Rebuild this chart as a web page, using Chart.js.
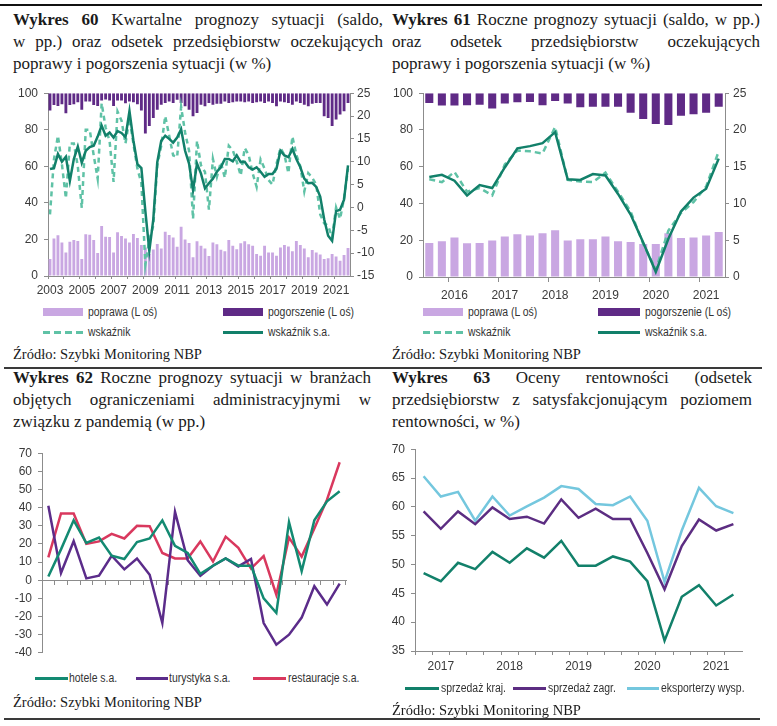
<!DOCTYPE html>
<html>
<head>
<meta charset="utf-8">
<script src="https://cdn.jsdelivr.net/npm/chart.js@4.4.0/dist/chart.umd.min.js"></script>
<style>
  body { margin: 0; width: 777px; height: 726px; background: #fff; position: relative; overflow: hidden; font-family: 'Liberation Serif', serif; }
  canvas { position: absolute; }
  .title { position: absolute; font-size: 17px; line-height: 22px; color: #1a1a1a; }
  .title div { white-space: nowrap; }
  .title .j { text-align: justify; text-align-last: justify; }
  .src { position: absolute; font-size: 14.5px; color: #1a1a1a; white-space: nowrap; }
  .rule { position: absolute; height: 2px; background: #3a3a3a; }
  .leg { position: absolute; height: 16px; display: flex; align-items: center; white-space: nowrap;
         font-family: 'Liberation Sans Narrow', 'Liberation Sans', sans-serif; font-size: 12px; color: #333; }
  .leg .t { display: inline-block; transform: scaleX(0.87); transform-origin: left center; }
  .sw { display: inline-block; flex: none; }
</style>
</head>
<body>

<div class="rule" style="left:0; top:4px; width:762px; background:#111;"></div>
<div class="rule" style="left:4px; top:367px; width:758px;"></div>
<div class="rule" style="left:4px; top:718px; width:756px;"></div>

<div class="title" style="left:13px; top:9px; width:370px;">
  <div class="j"><b>Wykres 60</b> Kwartalne prognozy sytuacji (saldo,</div>
  <div class="j">w pp.) oraz odsetek przedsiębiorstw oczekujących</div>
  <div>poprawy i pogorszenia sytuacji (w %)</div>
</div>
<div class="title" style="left:392px; top:9px; width:368px;">
  <div class="j"><b>Wykres 61</b> Roczne prognozy sytuacji (saldo, w pp.)</div>
  <div class="j">oraz odsetek przedsiębiorstw oczekujących</div>
  <div>poprawy i pogorszenia sytuacji (w %)</div>
</div>
<div class="title" style="left:13px; top:367px; width:358px;">
  <div class="j"><b>Wykres 62</b> Roczne prognozy sytuacji w branżach</div>
  <div class="j">objętych ograniczeniami administracyjnymi w</div>
  <div>związku z pandemią (w pp.)</div>
</div>
<div class="title" style="left:392px; top:367px; width:360px;">
  <div class="j"><b>Wykres 63</b> Oceny rentowności (odsetek</div>
  <div class="j">przedsiębiorstw z satysfakcjonującym poziomem</div>
  <div>rentowności, w %)</div>
</div>

<canvas id="c60" width="385" height="222" style="left:5px; top:80px;"></canvas>
<canvas id="c61" width="387" height="222" style="left:390px; top:80px;"></canvas>
<canvas id="c62" width="385" height="226" style="left:5px; top:440px;"></canvas>
<canvas id="c63" width="392" height="240" style="left:385px; top:436px;"></canvas>

<!-- legends -->
<div class="leg" style="left:43px; top:304px;"><span class="sw" style="width:40px;height:8px;background:#c9a7e2;"></span><span class="t" style="margin-left:5px;">poprawa (L oś)</span></div>
<div class="leg" style="left:223px; top:304px;"><span class="sw" style="width:40px;height:8px;background:#5f2a86;"></span><span class="t" style="margin-left:5px;">pogorszenie (L oś)</span></div>
<div class="leg" style="left:43px; top:324px;"><span class="sw" style="width:40px;height:3px;background:repeating-linear-gradient(to right,#5fc2a6 0 7px,transparent 7px 11px);"></span><span class="t" style="margin-left:5px;">wskaźnik</span></div>
<div class="leg" style="left:223px; top:324px;"><span class="sw" style="width:40px;height:3px;background:#12806a;"></span><span class="t" style="margin-left:5px;">wskaźnik s.a.</span></div>

<div class="leg" style="left:423px; top:304px;"><span class="sw" style="width:40px;height:8px;background:#c9a7e2;"></span><span class="t" style="margin-left:5px;">poprawa (L oś)</span></div>
<div class="leg" style="left:598px; top:304px;"><span class="sw" style="width:42px;height:8px;background:#5f2a86;"></span><span class="t" style="margin-left:5px;">pogorszenie (L oś)</span></div>
<div class="leg" style="left:423px; top:324px;"><span class="sw" style="width:40px;height:3px;background:repeating-linear-gradient(to right,#5fc2a6 0 7px,transparent 7px 11px);"></span><span class="t" style="margin-left:5px;">wskaźnik</span></div>
<div class="leg" style="left:598px; top:324px;"><span class="sw" style="width:42px;height:3px;background:#12806a;"></span><span class="t" style="margin-left:5px;">wskaźnik s.a.</span></div>

<div class="leg" style="left:35px; top:670px;"><span class="sw" style="width:33px;height:3px;background:#138a72;"></span><span class="t" style="margin-left:1px;">hotele s.a.</span></div>
<div class="leg" style="left:136px; top:670px;"><span class="sw" style="width:32px;height:3px;background:#5b2c8a;"></span><span class="t" style="margin-left:1px;">turystyka s.a.</span></div>
<div class="leg" style="left:253px; top:670px;"><span class="sw" style="width:33px;height:3px;background:#d9385e;"></span><span class="t" style="margin-left:2px;">restauracje s.a.</span></div>

<div class="leg" style="left:405px; top:680px;"><span class="sw" style="width:34px;height:3px;background:#12806a;"></span><span class="t" style="margin-left:2px;">sprzedaż kraj.</span></div>
<div class="leg" style="left:513px; top:680px;"><span class="sw" style="width:33px;height:3px;background:#5c2d82;"></span><span class="t" style="margin-left:2px;">sprzedaż zagr.</span></div>
<div class="leg" style="left:627px; top:680px;"><span class="sw" style="width:32px;height:3px;background:#74c7de;"></span><span class="t" style="margin-left:2px;">eksporterzy wysp.</span></div>

<div class="src" style="left:13px; top:346px;">Źródło: Szybki Monitoring NBP</div>
<div class="src" style="left:392px; top:346px;">Źródło: Szybki Monitoring NBP</div>
<div class="src" style="left:13px; top:694px;">Źródło: Szybki Monitoring NBP</div>
<div class="src" style="left:392px; top:702px;">Źródło: Szybki Monitoring NBP</div>

<script>
// ---- Wykres 60: kwartalnie 2003 Q1 - 2021 Q4 ----
const quarters60 = [];
for (let y = 2003; y <= 2021; y++) for (let q = 1; q <= 4; q++) quarters60.push(y + ' Q' + q);

const poprawa60 = [9.3, 20.5, 22.3, 18.3, 12.9, 18.7, 19.7, 19.2, 9.3, 22.8, 22.6, 19.7, 12.6, 27.3, 21.5, 21.4,
  12.9, 24.0, 21.9, 20.5, 18.3, 23.0, 20.8, 16.9, 15.5, 12.0, 14.5, 17.5, 15.0, 24.2, 22.4, 21.0,
  16.0, 27.0, 20.0, 18.0, 10.2, 19.0, 16.5, 15.0, 11.0, 18.3, 17.4, 14.4, 13.5, 19.7, 16.5, 14.7,
  17.9, 19.0, 17.4, 16.5, 12.0, 11.1, 16.5, 12.9, 12.9, 11.1, 15.6, 16.9, 16.2, 13.5, 19.2, 16.9,
  15.1, 10.2, 14.2, 12.9, 11.7, 9.3, 9.7, 12.0, 10.6, 8.4, 11.5, 15.3];
const pogorszenie60 = [9.5, 6.5, 7.0, 6.0, 11.0, 6.5, 6.0, 5.0, 9.0, 4.5, 4.5, 6.5, 7.0, 4.0, 3.5, 4.0,
  7.0, 4.0, 4.0, 5.5, 4.5, 5.0, 6.0, 9.5, 22.0, 18.0, 13.5, 9.0, 6.3, 5.4, 4.5, 5.4,
  3.6, 5.4, 7.2, 9.0, 12.6, 10.8, 6.3, 7.2, 5.4, 6.3, 5.8, 5.8, 4.5, 5.4, 4.9, 4.5,
  4.5, 4.9, 4.5, 5.4, 5.0, 4.5, 5.4, 4.5, 5.4, 7.2, 4.5, 4.9, 5.4, 6.3, 4.5, 5.4,
  6.3, 7.2, 5.8, 5.4, 5.4, 12.6, 13.5, 18.0, 14.4, 11.7, 9.9, 5.4];
const wskaznik60 = [-1.5, 10.5, 15.7, 9.5, 2.0, 14.0, 14.0, 9.0, -0.1, 17.0, 17.0, 11.4, 6.3, 22.8, 17.5, 14.5,
  5.6, 21.0, 19.0, 14.0, 19.5, 13.9, 8.5, 5.3, -12.5, -7.0, -4.0, 9.2, 13.5, 20.0, 15.7, 11.4,
  11.0, 22.0, 16.4, 12.4, -2.5, 14.6, 9.2, 7.8, -0.5, 10.6, 6.7, 9.9, 6.5, 13.5, 12.5, 10.0,
  7.0, 13.0, 11.5, 7.5, 4.5, 10.5, 8.5, 6.0, 5.0, 9.5, 13.0, 11.5, 7.5, 15.5, 11.5, 9.0,
  3.5, 7.5, 6.5, 5.0, -1.5, -3.5, -4.0, -6.5, 0.0, -2.5, 2.0, 8.5];
const wskaznikSa60 = [8.4, 8.6, 11.7, 10.0, 11.1, 5.8, 10.6, 13.3, 9.8, 12.4, 13.2, 13.5, 15.5, 17.9, 15.7, 16.4,
  15.3, 16.7, 16.3, 15.4, 21.1, 14.6, 9.5, 8.6, -0.8, -9.5, -2.6, 9.9, 14.6, 15.7, 15.0, 14.2,
  15.3, 17.1, 12.4, 9.6, 3.8, 9.6, 7.4, 4.2, 5.3, 6.3, 7.8, 8.8, 10.6, 10.6, 10.1, 11.4,
  9.9, 10.0, 8.8, 8.3, 8.8, 7.8, 6.7, 7.3, 7.3, 8.5, 12.4, 11.4, 11.0, 12.8, 10.6, 8.8,
  6.3, 5.3, 5.4, 4.5, 2.4, -2.6, -6.2, -7.3, -0.8, -0.5, 1.7, 9.2];

// ---- Wykres 61: kwartalnie 2015 Q3 - 2021 Q2 ----
const quarters61 = [];
for (let y = 2015; y <= 2021; y++) for (let q = 1; q <= 4; q++) quarters61.push(y + ' Q' + q);
quarters61.splice(0, 2); quarters61.splice(24);

const poprawa61 = [18.5, 19.4, 21.5, 18.3, 18.5, 19.9, 22.0, 23.3, 22.6, 23.8, 25.4, 19.8,
  20.6, 20.6, 22.0, 19.4, 19.0, 18.0, 18.0, 23.8, 21.2, 21.5, 22.6, 24.5];
const pogorszenie61 = [5.3, 6.7, 6.7, 6.5, 6.3, 8.3, 5.6, 4.9, 4.8, 6.5, 4.2, 5.6,
  7.6, 7.4, 7.4, 7.4, 10.6, 14.1, 16.8, 17.3, 12.3, 11.5, 10.6, 7.4];
const wskaznik61 = [13.3, 12.9, 14.3, 11.6, 12.1, 11.1, 15.3, 17.2, 17.1, 16.8, 20.4, 13.2,
  13.0, 12.9, 14.2, 11.6, 8.9, 4.5, 1.0, 6.3, 8.7, 10.2, 12.3, 17.1];
const wskaznikSa61 = [13.6, 13.9, 13.1, 11.1, 12.5, 12.1, 14.9, 17.5, 17.8, 18.2, 19.7, 13.3,
  13.2, 14.0, 13.8, 11.3, 8.5, 4.7, 0.7, 5.2, 8.9, 10.8, 12.0, 16.1];

// ---- Wykres 62: 24 okresy, bez etykiet osi X ----
const periods62 = quarters61.slice();
const hotele62 = [2, 17, 33, 20.5, 23.5, 13.5, 11.7, 21, 23, 33, 19, 15, 3.5, 8, 12, 8, 8, -10, -18, 32, 5, 33, 43.5, 49];
const turystyka62 = [41, 4, 21.5, 1, 2.5, 13.5, 6, 12, 3, -23.6, 37.7, 11, 2.5, 8, 12, 7.6, 11.7, -23.6, -35.5, -30, -20.6, -3.3, -13.4, -1.9];
const restauracje62 = [12.6, 36.8, 36.8, 20, 21.4, 25.5, 23, 30, 29.7, 15, 12, 12, 21.4, 10.3, 24, 17.9, 6.4, 13.3, -8, 23.5, 13, 28.5, 44.4, 65];

// ---- Wykres 63: kwartalnie 2016 Q4 - 2021 Q2 ----
const quarters63 = quarters61.slice(5);
const kraj63 = [48.5, 47.1, 50.3, 49.2, 52.2, 50.3, 52.8, 51.2, 54.1, 49.8, 49.8, 51.4, 50.5, 47.1, 36.8, 44.4, 46.4, 42.9, 44.8];
const zagr63 = [59.2, 56.2, 59.2, 57.0, 59.9, 57.9, 58.3, 57.1, 61.3, 58.1, 59.7, 57.9, 57.9, 52.0, 45.7, 53.2, 57.8, 55.9, 57.0];
const eksp63 = [65.3, 61.8, 62.6, 57.6, 61.8, 58.5, 60.1, 61.6, 63.6, 63.1, 60.5, 60.3, 61.8, 57.6, 47.0, 55.9, 63.3, 60.1, 58.9];

const tickFont = { family: "'Liberation Sans Narrow', 'Liberation Sans', sans-serif", size: 12 };
const textColor = '#3a3a3a';
const axisColor = '#8c8c8c';
const lilac = '#c9a7e2', darkPurple = '#5f2a86', tealDark = '#12806a', tealLight = '#5fc2a6';
const noColor = 'rgba(0,0,0,0)';

const base = {
  responsive: false,
  animation: false,
  plugins: { legend: { display: false }, tooltip: { enabled: false } },
};

function yAxis(position, min, max, step, width, padding) {
  return {
    position, min, max,
    ticks: { stepSize: step, color: textColor, font: tickFont, padding },
    grid: { drawOnChartArea: false, tickLength: 4, color: axisColor },
    border: { color: axisColor },
    afterFit: s => { s.width = width; }
  };
}

function xAxis(labels, showTick, showLabel, height, tickLength, padding) {
  return {
    type: 'category', offset: true,
    grid: { offset: true, drawOnChartArea: false, tickLength,
            color: ctx => (ctx.index !== undefined && showTick(ctx.index)) ? axisColor : noColor },
    border: { color: axisColor },
    ticks: { autoSkip: false, maxRotation: 0, minRotation: 0, padding, color: textColor, font: tickFont,
             callback: (v, i) => showLabel(i) ? labels[i].slice(0, 4) : '' },
    afterFit: s => { s.height = height; }
  };
}

new Chart(document.getElementById('c60'), {
  type: 'bar',
  data: {
    labels: quarters60,
    datasets: [
      { type: 'line', label: 'wskaźnik s.a.', data: wskaznikSa60, yAxisID: 'yR', borderColor: tealDark, borderWidth: 2.5, pointRadius: 0, order: 0 },
      { type: 'line', label: 'wskaźnik', data: wskaznik60, yAxisID: 'yR', borderColor: tealLight, borderWidth: 2.5, borderDash: [5, 4], pointRadius: 0, order: 1 },
      { label: 'pogorszenie (L oś)', data: pogorszenie60.map(v => [100 - v, 100]), yAxisID: 'yL', backgroundColor: darkPurple, grouped: false, barPercentage: 0.72, categoryPercentage: 1, order: 2 },
      { label: 'poprawa (L oś)', data: poprawa60, yAxisID: 'yL', backgroundColor: lilac, grouped: false, barPercentage: 0.72, categoryPercentage: 1, order: 3 }
    ]
  },
  options: {
    ...base,
    layout: { padding: { top: 10 } },
    scales: {
      x: xAxis(quarters60, i => i % 4 === 0, i => i % 8 === 0, 26, 3, 4),
      yL: yAxis('left', 0, 100, 20, 43, 6),
      yR: yAxis('right', -15, 25, 5, 40, 3)
    }
  }
});

new Chart(document.getElementById('c61'), {
  type: 'bar',
  data: {
    labels: quarters61,
    datasets: [
      { type: 'line', label: 'wskaźnik s.a.', data: wskaznikSa61, yAxisID: 'yR', borderColor: tealDark, borderWidth: 2.5, pointRadius: 0, order: 0 },
      { type: 'line', label: 'wskaźnik', data: wskaznik61, yAxisID: 'yR', borderColor: tealLight, borderWidth: 2.5, borderDash: [6, 4], pointRadius: 0, order: 1 },
      { label: 'pogorszenie (L oś)', data: pogorszenie61.map(v => [100 - v, 100]), yAxisID: 'yL', backgroundColor: darkPurple, grouped: false, barPercentage: 0.64, categoryPercentage: 1, order: 2 },
      { label: 'poprawa (L oś)', data: poprawa61, yAxisID: 'yL', backgroundColor: lilac, grouped: false, barPercentage: 0.64, categoryPercentage: 1, order: 3 }
    ]
  },
  options: {
    ...base,
    layout: { padding: { top: 10 } },
    scales: {
      x: xAxis(quarters61, i => i % 4 === 2, i => i % 4 === 2, 25, 5, 6),
      yL: yAxis('left', 0, 100, 20, 33, 6),
      yR: yAxis('right', 0, 25, 5, 52, 4)
    }
  }
});

new Chart(document.getElementById('c62'), {
  type: 'line',
  data: {
    labels: periods62,
    datasets: [
      { label: 'restauracje s.a.', data: restauracje62, borderColor: '#d9385e', borderWidth: 2.5, pointRadius: 0, order: 2 },
      { label: 'turystyka s.a.', data: turystyka62, borderColor: '#5b2c8a', borderWidth: 2.5, pointRadius: 0, order: 1 },
      { label: 'hotele s.a.', data: hotele62, borderColor: '#138a72', borderWidth: 2.5, pointRadius: 0, order: 0 }
    ]
  },
  options: {
    ...base,
    layout: { padding: { top: 8, bottom: 10, right: 44 } },
    scales: {
      x: {
        type: 'category', offset: true, position: { y: 0 },
        grid: { offset: true, drawOnChartArea: false, tickLength: 4, color: axisColor },
        border: { color: axisColor },
        ticks: { display: false },
        afterFit: s => { s.height = 0; }
      },
      y: yAxis('left', -40, 70, 10, 37, 6)
    }
  }
});

new Chart(document.getElementById('c63'), {
  type: 'line',
  data: {
    labels: quarters63,
    datasets: [
      { label: 'eksporterzy wysp.', data: eksp63, borderColor: '#74c7de', borderWidth: 2.5, pointRadius: 0, order: 2 },
      { label: 'sprzedaż zagr.', data: zagr63, borderColor: '#5c2d82', borderWidth: 2.5, pointRadius: 0, order: 1 },
      { label: 'sprzedaż kraj.', data: kraj63, borderColor: '#12806a', borderWidth: 2.5, pointRadius: 0, order: 0 }
    ]
  },
  options: {
    ...base,
    layout: { padding: { top: 8, right: 35 } },
    scales: {
      x: xAxis(quarters63, i => true, i => i % 4 === 1, 25, 4, 4),
      y: yAxis('left', 35, 70, 5, 30, 6)
    }
  }
});
</script>
</body>
</html>
